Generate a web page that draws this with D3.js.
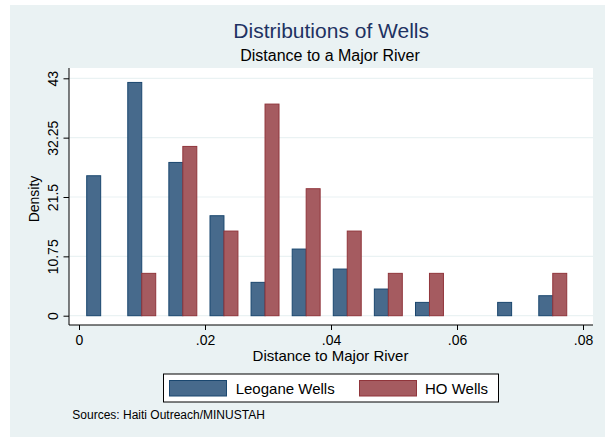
<!DOCTYPE html>
<html><head><meta charset="utf-8">
<script src="https://cdn.jsdelivr.net/npm/d3@7"></script>
<style>body{margin:0;background:#fff;}svg{display:block;font-family:"Liberation Sans",Arial,sans-serif;}</style>
</head><body>
<script>
const binCenters = [0.00344, 0.00996, 0.01648, 0.02301, 0.02953, 0.03606, 0.04258, 0.04910, 0.05563, 0.06215, 0.06867, 0.07520];
const leogane = [25.35, 42.25, 27.76, 18.11, 6.04, 12.07, 8.45, 4.83, 2.41, 0, 2.41, 3.62];
const hoWells = [0, 7.67, 30.66, 15.33, 38.33, 23.0, 15.33, 7.67, 7.67, 0, 0, 7.67];
const seriesNames = ["Leogane Wells", "HO Wells"];
const yTicks = [0, 10.75, 21.5, 32.25, 43];
const yTickLabels = ["0", "10.75", "21.5", "32.25", "43"];
const xTicks = [0, 0.02, 0.04, 0.06, 0.08];
const xTickLabels = ["0", ".02", ".04", ".06", ".08"];
const binWidth = 0.006523;

const W = 605, H = 438;
const svg = d3.select("body").append("svg").attr("width", W).attr("height", H);
svg.append("rect").attr("x", 10).attr("y", 5).attr("width", 595).attr("height", 432).attr("fill", "#eaf2f3");

const plot = {l: 69, r: 593, t: 68, b: 325};
svg.append("rect").attr("x", plot.l).attr("y", plot.t).attr("width", plot.r - plot.l).attr("height", plot.b - plot.t).attr("fill", "#fff");

const x = d3.scaleLinear().domain([0, 0.08]).range([79, 583]);
const y = d3.scaleLinear().domain([0, 43]).range([315.7, 78.3]);

// gridlines
svg.append("g").selectAll("line").data(yTicks).join("line")
  .attr("x1", plot.l).attr("x2", plot.r)
  .attr("y1", d => y(d)).attr("y2", d => y(d))
  .attr("stroke", "#eaf2f3").attr("stroke-width", 1.2);

const colors = [{fill: "#476a8c", stroke: "#1a476f"}, {fill: "#a55b60", stroke: "#90353b"}];
const bw = binWidth * 0.34;
const series = [leogane, hoWells];
series.forEach((vals, si) => {
  svg.append("g").selectAll("rect").data(vals.map((v, i) => ({v, c: binCenters[i]})).filter(d => d.v > 0)).join("rect")
    .attr("x", d => si === 0 ? x(d.c - bw) : x(d.c))
    .attr("width", x(bw) - x(0))
    .attr("y", d => y(d.v))
    .attr("height", d => y(0) - y(d.v))
    .attr("fill", colors[si].fill)
    .attr("stroke", colors[si].stroke)
    .attr("stroke-width", 1);
});

// y axis
const yAxis = d3.axisLeft(y).tickValues(yTicks).tickFormat((d, i) => yTickLabels[i]).tickSize(5.5).tickPadding(3);
const gy = svg.append("g").attr("transform", `translate(${plot.l},0)`).call(yAxis);
gy.select(".domain").remove();
gy.selectAll(".tick line").attr("stroke", "#000");
gy.selectAll(".tick text").attr("font-size", 14).attr("fill", "#000")
  .attr("text-anchor", "middle").attr("dy", null)
  .attr("transform", "translate(-11,0) rotate(-90)").attr("x", 0).attr("y", 0);
svg.append("line").attr("x1", plot.l).attr("x2", plot.l).attr("y1", plot.t).attr("y2", plot.b).attr("stroke", "#000");

// x axis
const xAxis = d3.axisBottom(x).tickValues(xTicks).tickFormat((d, i) => xTickLabels[i]).tickSize(5).tickPadding(3);
const gx = svg.append("g").attr("transform", `translate(0,${plot.b})`).call(xAxis);
gx.select(".domain").remove();
gx.selectAll(".tick line").attr("stroke", "#000");
gx.selectAll(".tick text").attr("font-size", 14).attr("fill", "#000").attr("dy", null).attr("y", 20.3);
svg.append("line").attr("x1", plot.l).attr("x2", plot.r).attr("y1", plot.b).attr("y2", plot.b).attr("stroke", "#000");

// axis titles
svg.append("text").attr("x", 330.5).attr("y", 361.3).attr("text-anchor", "middle").attr("font-size", 15).text("Distance to Major River");
svg.append("text").attr("transform", "translate(38.8,199) rotate(-90)").attr("text-anchor", "middle").attr("font-size", 14).text("Density");

// titles
svg.append("text").attr("x", 331.2).attr("y", 37.5).attr("text-anchor", "middle").attr("font-size", 21).attr("fill", "#1e3262").text("Distributions of Wells");
svg.append("text").attr("x", 330).attr("y", 61).attr("text-anchor", "middle").attr("font-size", 16).attr("fill", "#000").text("Distance to a Major River");

// legend
svg.append("rect").attr("x", 163.5).attr("y", 374).attr("width", 335).attr("height", 28).attr("fill", "#fff").attr("stroke", "#000");
const legX = [169.5, 359.5];
const legTX = [235.7, 425];
seriesNames.forEach((n, i) => {
  svg.append("rect").attr("x", legX[i]).attr("y", 380.5).attr("width", 57).attr("height", 15.5)
    .attr("fill", colors[i].fill).attr("stroke", colors[i].stroke);
  svg.append("text").attr("x", legTX[i]).attr("y", 394).attr("font-size", 15).text(n);
});

svg.append("text").attr("x", 72.3).attr("y", 419).attr("font-size", 12).text("Sources: Haiti Outreach/MINUSTAH");
</script>
</body></html>
